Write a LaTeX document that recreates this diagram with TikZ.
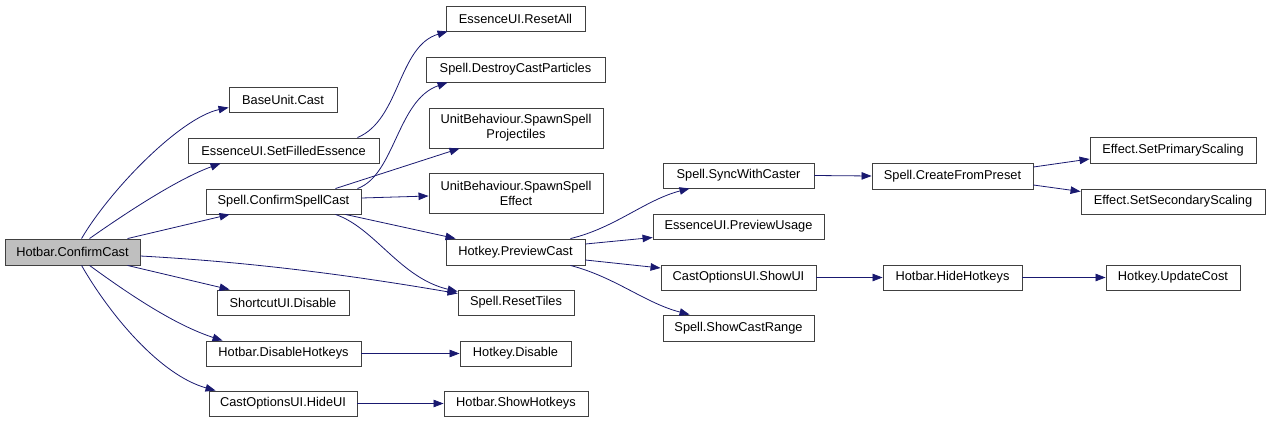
\documentclass[tikz,border=0pt]{standalone}
\usepackage{fontspec}
\setmainfont{Liberation Sans}
\usetikzlibrary{arrows.meta}
\definecolor{MidBlue}{RGB}{25,25,112}
\definecolor{BoxLine}{RGB}{64,64,64}
\definecolor{RootFill}{RGB}{191,191,191}
\begin{document}
\begin{tikzpicture}[x=1pt,y=-1pt,
  box/.style={draw=BoxLine, line width=0.9pt, fill=white, inner sep=0pt,
    font=\fontsize{12.8}{15}\selectfont, align=center},
  rootbox/.style={box, fill=RootFill},
  edge/.style={draw=MidBlue, line width=0.8pt, -{Triangle[length=10pt,width=7.5pt]}, fill=none}]
\useasboundingbox (0,0) rectangle (1271,423);
% column 0
\node[rootbox, minimum width=135pt, minimum height=26pt] (root) at (72.5,252) {Hotbar.ConfirmCast};
% column 1
\node[box, minimum width=108pt, minimum height=25pt] (base) at (283,99.5) {BaseUnit.Cast};
\node[box, minimum width=191pt, minimum height=25pt] (sfe) at (283.5,150.5) {EssenceUI.SetFilledEssence};
\node[box, minimum width=155pt, minimum height=25pt] (csc) at (283.5,201.5) {Spell.ConfirmSpellCast};
\node[box, minimum width=132pt, minimum height=25pt] (sud) at (283,302.5) {ShortcutUI.Disable};
\node[box, minimum width=155pt, minimum height=25pt] (dh) at (283.5,353.5) {Hotbar.DisableHotkeys};
\node[box, minimum width=148pt, minimum height=25pt] (hui) at (283,403.5) {CastOptionsUI.HideUI};
% column 2
\node[box, minimum width=139pt, minimum height=25pt] (ra) at (515.5,18.5) {EssenceUI.ResetAll};
\node[box, minimum width=179pt, minimum height=25pt] (dcp) at (515.5,69.5) {Spell.DestroyCastParticles};
\node[box, minimum width=174pt, minimum height=40pt] (ssp) at (516,128) {UnitBehaviour.SpawnSpell\\Projectiles};
\node[box, minimum width=174pt, minimum height=40pt] (sse) at (516,193) {UnitBehaviour.SpawnSpell\\Effect};
\node[box, minimum width=139pt, minimum height=26pt] (pc) at (515.5,252) {Hotkey.PreviewCast};
\node[box, minimum width=116pt, minimum height=25pt] (rt) at (516,302.5) {Spell.ResetTiles};
\node[box, minimum width=111pt, minimum height=25pt] (hd) at (515.5,353.5) {Hotkey.Disable};
\node[box, minimum width=144pt, minimum height=25pt] (sh) at (516,403.5) {Hotbar.ShowHotkeys};
% column 3
\node[box, minimum width=151pt, minimum height=25pt] (swc) at (738.5,175.5) {Spell.SyncWithCaster};
\node[box, minimum width=171pt, minimum height=25pt] (pu) at (738.5,226.5) {EssenceUI.PreviewUsage};
\node[box, minimum width=155pt, minimum height=25pt] (sui) at (738.5,277.5) {CastOptionsUI.ShowUI};
\node[box, minimum width=151pt, minimum height=26pt] (scr) at (738.5,328) {Spell.ShowCastRange};
% column 4
\node[box, minimum width=161pt, minimum height=26pt] (cfp) at (952.5,176) {Spell.CreateFromPreset};
\node[box, minimum width=139pt, minimum height=25pt] (hh) at (952.5,277.5) {Hotbar.HideHotkeys};
% column 5
\node[box, minimum width=166pt, minimum height=26pt] (sps) at (1173,150) {Effect.SetPrimaryScaling};
\node[box, minimum width=184pt, minimum height=25pt] (sss) at (1173,201.5) {Effect.SetSecondaryScaling};
\node[box, minimum width=134pt, minimum height=25pt] (uc) at (1173,277.5) {Hotkey.UpdateCost};
% edges from root
\draw[edge] ([xshift=77pt]root.north west) .. controls (110,190) and (180,118) .. ([yshift=-8pt]base.west);
\draw[edge] ([xshift=85pt]root.north west) .. controls (130,210) and (180,178) .. ([xshift=33pt]sfe.south west);
\draw[edge] ([xshift=123pt]root.north west) -- ([xshift=24pt]csc.south west);
\draw[edge] ([yshift=-4pt]root.east) .. controls (250,262) and (350,275) .. ([yshift=9pt]rt.west);
\draw[edge] ([xshift=123pt]root.south west) -- ([xshift=13pt]sud.north west);
\draw[edge] ([xshift=85pt]root.south west) .. controls (130,295) and (175,325) .. ([xshift=17pt]dh.north west);
\draw[edge] ([xshift=77pt]root.south west) .. controls (110,315) and (160,375) .. ([xshift=7pt]hui.north west);
% edges from column 1
\draw[edge] ([xshift=-22pt]sfe.north east) .. controls (400,120) and (398,46) .. ([xshift=2pt]ra.south west);
\draw[edge] ([xshift=-4pt]csc.north east) .. controls (395,175) and (397,100) .. ([xshift=22pt]dcp.south west);
\draw[edge] ([xshift=-26pt]csc.north east) -- ([xshift=31pt]ssp.south west);
\draw[edge] ([yshift=3.5pt]csc.east) -- ([yshift=-3pt]sse.west);
\draw[edge] ([xshift=-16pt]csc.south east) -- ([xshift=10pt]pc.north west);
\draw[edge] ([xshift=-26pt]csc.south east) .. controls (375,228) and (400,278) .. ([yshift=11pt]rt.west);
\draw[edge] (dh.east) -- (hd.west);
\draw[edge] (hui.east) -- (sh.west);
% edges from column 2
\draw[edge] ([xshift=-15pt]pc.north east) .. controls (615,228) and (645,200) .. ([xshift=27pt]swc.south west);
\draw[edge] ([yshift=8pt]pc.east) -- ([yshift=-11pt]pu.west);
\draw[edge] ([yshift=-8pt]pc.east) -- ([yshift=9.5pt]sui.west);
\draw[edge] ([xshift=-15pt]pc.south east) .. controls (615,277) and (645,303) .. ([xshift=27pt]scr.north west);
% edges from column 3/4
\draw[edge] (swc.east) -- (cfp.west);
\draw[edge] ([yshift=9pt]cfp.east) -- ([yshift=-9pt]sps.west);
\draw[edge] ([yshift=-9pt]cfp.east) -- ([yshift=10pt]sss.west);
\draw[edge] (sui.east) -- (hh.west);
\draw[edge] (hh.east) -- (uc.west);
\end{tikzpicture}
\end{document}
